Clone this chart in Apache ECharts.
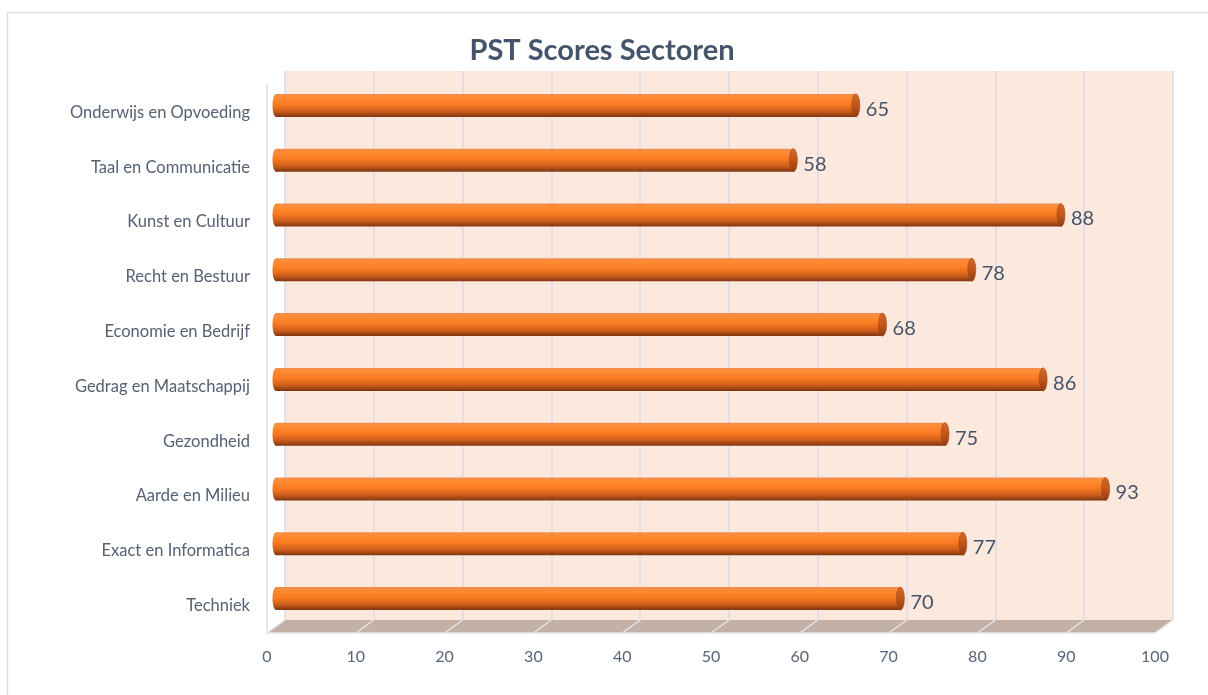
<!DOCTYPE html>
<html>
<head>
<meta charset="utf-8">
<script src="https://cdn.jsdelivr.net/npm/echarts@6/dist/echarts.min.js"></script>
<style>
html,body{margin:0;padding:0;background:#fff;}
#chart{width:1208px;height:695px;}
</style>
</head>
<body>
<div id="chart"></div>
<script>
const categories = ['Techniek','Exact en Informatica','Aarde en Milieu','Gezondheid','Gedrag en Maatschappij','Economie en Bedrijf','Recht en Bestuur','Kunst en Cultuur','Taal en Communicatie','Onderwijs en Opvoeding'];
const scores = [70, 77, 93, 75, 86, 68, 78, 88, 58, 65];
const xTicks = [0,10,20,30,40,50,60,70,80,90,100];
const title = 'PST Scores Sectoren';

const FONT = 'Lato, "Open Sans", sans-serif';
const DX = 18, DY = -13; // depth offset of the 3D box

const chart = echarts.init(document.getElementById('chart'), null, {renderer:'canvas'});

function barRender(params, api){
  const cat = api.value(0);
  const val = api.value(1);
  const p0 = api.coord([0, cat]);
  const p1 = api.coord([val, cat]);
  const h = 23;
  const y = p0[1];
  const grad = new echarts.graphic.LinearGradient(0,0,0,1,[
    {offset:0, color:'#ee8d52'},
    {offset:0.12, color:'#ff8d35'},
    {offset:0.45, color:'#fa7b22'},
    {offset:0.75, color:'#cf5f1b'},
    {offset:1, color:'#7f3510'}
  ]);
  const capGrad = new echarts.graphic.LinearGradient(0,0,0,1,[
    {offset:0, color:'#d06a2a'},
    {offset:0.5, color:'#c2561a'},
    {offset:1, color:'#8a3b12'}
  ]);
  return {
    type:'group',
    children:[
      {type:'ellipse', shape:{cx:p0[0], cy:y, rx:3.5, ry:h/2}, style:{fill:grad}},
      {type:'rect', shape:{x:p0[0], y:y-h/2, width:p1[0]-p0[0], height:h}, style:{fill:grad}},
      {type:'ellipse', shape:{cx:p1[0], cy:y, rx:4, ry:h/2}, style:{fill:capGrad, stroke:'#a8481a', lineWidth:0.6}},
      {type:'text', style:{text:String(val), x:p1[0]+10, y:y+4, fill:'#44546a', font:'20px '+FONT, verticalAlign:'middle', align:'left'}}
    ]
  };
}

function floorRender(params, api){
  const cs = params.coordSys;
  const yF = cs.y + cs.height;
  const x0 = cs.x, x1 = cs.x + cs.width;
  const children = [
    {type:'polygon', shape:{points:[[x0,yF],[x0+DX,yF+DY],[x1+DX,yF+DY],[x1,yF]]}, style:{fill:'#c3b0a7'}},
    {type:'line', shape:{x1:x0, y1:yF, x2:x1, y2:yF}, style:{stroke:'#e4e6ec', lineWidth:1.5}}
  ];
  xTicks.forEach(function(t){
    const px = api.coord([t, 0])[0];
    children.push({type:'line', shape:{x1:px, y1:yF, x2:px+DX, y2:yF+DY}, style:{stroke:'#e4e6ec', lineWidth:1.5}});
  });
  return {type:'group', children:children};
}

const option = {
  animation:false,
  title:{
    text:title, left:597, top:31, textAlign:'center',
    textStyle:{fontFamily:FONT, fontSize:29, fontWeight:'bold', color:'#44546a'}
  },
  graphic:[
    {type:'rect', shape:{x:7.5, y:12.5, width:1400, height:900}, style:{fill:'none', stroke:'#dde1e6', lineWidth:1.5}, z:-10}
  ],
  grid:[
    {left:267, width:888, top:85, height:548, containLabel:false},
    {left:285, width:888, top:71, height:549, show:true, backgroundColor:'#fde8de', borderWidth:0},
    {left:276, width:892, top:78, height:548}
  ],
  xAxis:[
    {gridIndex:0, type:'value', min:0, max:100, interval:10,
     axisLine:{show:false}, axisTick:{show:false}, splitLine:{show:false},
     axisLabel:{margin:16, fontFamily:FONT, fontSize:16, color:'#5a6577'}},
    {gridIndex:1, type:'value', min:0, max:100, interval:10,
     axisLine:{show:false}, axisTick:{show:false}, axisLabel:{show:false},
     splitLine:{show:true, lineStyle:{color:'#d8dde6', width:1.5}}},
    {gridIndex:2, type:'value', min:0, max:100, interval:10,
     axisLine:{show:false}, axisTick:{show:false}, axisLabel:{show:false}, splitLine:{show:false}}
  ],
  yAxis:[
    {gridIndex:0, type:'category', data:categories,
     axisLine:{show:true, lineStyle:{color:'#d8dde6', width:1.5}}, axisTick:{show:false},
     axisLabel:{margin:17, fontFamily:FONT, fontSize:16.5, color:'#566173'}},
    {gridIndex:1, type:'category', data:categories, show:false},
    {gridIndex:2, type:'category', data:categories, show:false}
  ],
  series:[
    {type:'custom', name:'floor', xAxisIndex:0, yAxisIndex:0, data:[[0,0]], renderItem:floorRender, silent:true, z:1},
    {type:'custom', name:'PST', xAxisIndex:2, yAxisIndex:2,
     data:scores.map(function(v,i){return [i, v];}),
     encode:{x:1, y:0},
     renderItem:barRender, z:3}
  ]
};
chart.setOption(option);
</script>
</body>
</html>
